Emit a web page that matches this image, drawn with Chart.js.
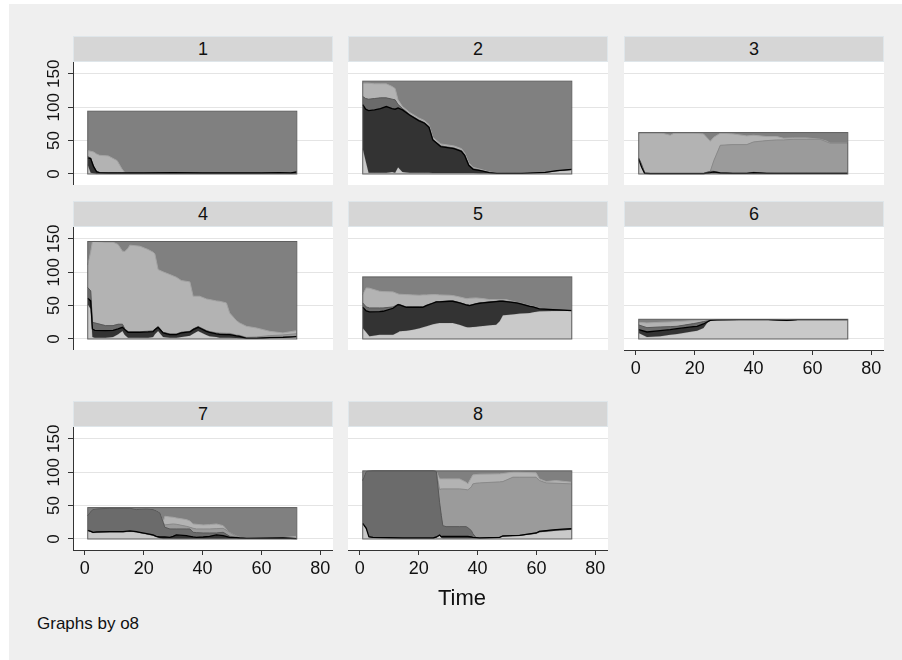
<!DOCTYPE html>
<html><head><meta charset="utf-8">
<script src="https://cdn.jsdelivr.net/npm/chart.js@4.4.1/dist/chart.umd.min.js"></script>
<style>
html,body{margin:0;padding:0;background:#fff;}
#bg{position:absolute;left:9px;top:4px;width:893px;height:656px;background:#efefef;}
.hdr{position:absolute;height:26px;background:#d6d6d6;box-sizing:border-box;border:1px solid #dfe6ea;font:18px "Liberation Sans",Arial,sans-serif;color:#111;text-align:center;line-height:24px;}
.txt{position:absolute;font-family:"Liberation Sans",Arial,sans-serif;color:#111;white-space:nowrap;}
canvas{position:absolute;}
</style></head><body>
<div id="bg"></div>
<div id="root"></div>
<script>
// ---------- tick labels ----------
const timeTicks = [0, 20, 40, 60, 80];
const countTicks = [0, 50, 100, 150];
const xTitle = 'Time';
const note = 'Graphs by o8';

// ---------- data: cumulative levels of the stacked areas (s1 bottom ... s5), and group total ----------
const p1_t  = [1, 2, 3, 4, 5, 8, 11, 12.5, 13.5, 15, 20, 30, 40, 50, 60, 66, 70, 72];
const p1_s1 = [14, 2, 1, 0.5, 0.5, 0.5, 0.5, 0.5, 0.5, 0.5, 0.5, 0.5, 0.5, 0.5, 0.5, 0.5, 0.5, 0.5];
const p1_s2 = [24, 23, 11, 3.5, 2, 1.5, 1.5, 1.5, 1.5, 1.5, 1.5, 2, 1.5, 1.5, 1.5, 2, 1.5, 3];
const p1_s3 = [26, 24, 11.5, 3.5, 2, 1.5, 1.5, 1.5, 1.5, 1.5, 1.5, 2, 1.5, 1.5, 1.5, 2, 1.5, 3];
const p1_s5 = [35, 34, 33, 30, 28, 27, 20, 8.5, 2.5, 1.5, 1.5, 2, 1.5, 1.5, 1.5, 2, 1.5, 3];
const p1_total = 94;

const p2_t  = [1, 2, 3, 5, 7, 9, 11, 12, 13, 14.5, 17, 20, 22, 23.5, 24.8, 27.5, 32, 34.5, 35.6, 37, 38.5, 41, 44, 46.5, 55, 63, 67, 72];
const p2_s1 = [38, 20, 2, 2, 2, 2, 3, 2, 10, 3, 2, 2, 2, 2, 1.5, 1.5, 1.5, 1.5, 1.5, 1.5, 1.5, 1, 1, 1, 1, 2, 4, 6];
const p2_s2 = [104, 97, 95, 96, 98, 101, 98, 97, 99, 96, 88, 80, 76, 70, 51, 41, 38, 34, 28, 13, 7, 5, 2, 1, 1, 2.5, 5, 7];
const p2_s3 = [116, 113, 112, 113, 114, 114, 112, 111, 104, 98, 89, 81, 77, 71, 52, 42, 39, 35, 29, 14, 8, 5.5, 2.2, 1.1, 1, 2.5, 5, 7];
const p2_s5 = [136, 136, 136, 135, 135, 135, 131, 128, 111, 101, 92, 84, 80, 74, 55, 45, 42, 38, 32, 17, 10, 7, 3, 1.5, 1, 2.5, 5, 7];
const p2_total = 139;

const p3_t  = [1, 2, 3, 5, 9, 11.7, 13, 20, 23, 25.3, 26.5, 28.7, 33, 37.7, 40, 44.5, 47.9, 50.2, 53.6, 58, 62.6, 64.9, 66, 72];
const p3_s1 = [22, 10, 1, 0.5, 0.5, 0.5, 0.5, 0.5, 0.5, 1, 1, 1, 0.5, 0.5, 0.5, 0.5, 0.5, 0.5, 0.5, 0.5, 0.5, 0.5, 0.5, 0.5];
const p3_s2 = [22, 10, 1, 0.5, 0.5, 0.5, 0.5, 0.5, 0.5, 2, 3, 1.5, 1, 1, 2, 1, 1, 1, 1, 1, 1, 1, 1, 1];
const p3_s3 = [24, 14, 2, 1, 1, 1, 1, 1, 1, 4, 4, 2, 1, 1, 2.5, 1.2, 1, 1, 1, 1, 1, 1, 1, 1];
const p3_s4 = [24, 14, 2, 1, 1, 1, 1, 1, 1, 4, 20, 43, 44, 44, 48, 50, 51, 51, 52, 52, 52, 48, 46, 46];
const p3_s5 = [60, 61, 61, 61, 61, 58, 61, 61, 60, 49, 55, 61, 60, 57, 58, 56, 56, 53.5, 54, 54, 52, 49, 46, 46];
const p3_total = 62;

const p4_t  = [1, 2, 2.6, 3.4, 7, 9.6, 11.3, 12.8, 13.6, 14.7, 15.3, 18.7, 21.5, 23.2, 23.8, 24.9, 26.6, 28.9, 31.1, 32.8, 35.7, 36.8, 38.5, 39, 41.3, 42.4, 44.7, 45.8, 48.1, 49.2, 51.5, 52.6, 54.9, 58.3, 60.6, 62.8, 67.3, 72];
const p4_s1 = [52, 45, 3, 2, 2, 3, 7, 12, 6, 2, 2, 2, 2, 3, 7, 12, 3, 2, 2, 3, 5, 8, 12, 11, 6, 4, 3, 2, 2, 2, 1.5, 1, 0.5, 0.5, 1, 1.5, 2, 3];
const p4_s2 = [61, 57, 15, 13, 12.5, 13, 15, 17.5, 14, 10, 10, 10, 10.5, 11, 14, 17.5, 9, 6.5, 6.5, 9, 10.5, 14, 17.5, 16.5, 11.5, 10, 7.5, 7, 6.5, 6.5, 4.5, 4, 1, 1, 1.5, 2, 2.5, 3.5];
const p4_s3 = [77, 72, 25, 24, 20, 20, 22, 22, 15, 11, 11, 11, 11.5, 12, 15, 18.5, 10, 7.5, 7.5, 10, 11.5, 15, 18.5, 17.5, 12.5, 11, 8.5, 8, 7.5, 7.5, 5, 4.5, 1.5, 1.5, 2, 2.5, 3, 4];
const p4_s4 = [77, 72, 25, 24, 20, 20, 22, 22, 15, 11, 11, 11, 11.5, 12, 15, 18.5, 10, 7.5, 7.5, 10, 11.5, 15, 18.5, 17.5, 12.5, 11, 9.5, 9, 8.5, 8.5, 6, 5.5, 2.5, 3, 4, 5, 6, 8];
const p4_s5 = [111, 130, 146, 146, 145, 145, 141.5, 131.5, 131, 136, 140.5, 139, 134, 130, 127.5, 104, 100.5, 96.5, 92.5, 87.5, 85.5, 64, 64, 64, 60, 59, 57, 56.5, 54, 39, 27.5, 24, 19, 16.5, 14, 11.5, 9, 12.5];
const p4_total = 146;

const p5_t  = [1, 2.2, 3.3, 6.7, 7.9, 11.3, 13, 13.5, 15.8, 18, 20.3, 21.4, 22.6, 24.8, 26, 27, 30.5, 31.6, 33.9, 36.1, 36.7, 37.3, 39.5, 40.7, 41.8, 44, 46.3, 47.5, 48.6, 49.7, 53.1, 54.3, 57.7, 58.8, 61, 65.6, 72];
const p5_s1 = [16.5, 10, 4, 6.5, 6.5, 6.5, 10, 11.5, 12.5, 14, 16, 17.5, 19, 22, 23, 24, 24, 24, 21.5, 18, 17.5, 17.5, 18.5, 19, 19.5, 20.5, 21.5, 26.5, 35.5, 36, 37.5, 38, 39, 40, 41.5, 42, 42.5];
const p5_s2 = [47.5, 42, 40.5, 41, 41.5, 46, 51.5, 51, 47.5, 47.5, 47.5, 47.5, 50, 53.5, 55.5, 55.5, 56.5, 56.5, 54, 51, 50.5, 50, 52.5, 53.5, 54, 55, 56, 56.5, 56.5, 56, 54, 53, 49, 48, 45, 44, 42.5];
const p5_s3 = [54, 48, 46.5, 46.5, 46.5, 48, 52, 51.5, 48, 48, 48, 48, 50.5, 54, 56, 56, 57, 57, 54.5, 51.5, 51, 50.5, 53, 54, 54.5, 55.5, 56.5, 57, 57, 56.5, 54.5, 53.5, 49.5, 48.5, 45.5, 44.5, 43];
const p5_s5 = [66.5, 76.5, 76, 71.5, 71, 70.5, 67.5, 67, 66.5, 66, 65.5, 66, 66, 66.5, 66.5, 66, 65.5, 65, 63, 60.5, 60.5, 61, 61.5, 61, 60.5, 59, 59, 59, 59, 59, 55, 54, 50, 49, 46, 44.5, 43];
const p5_total = 93;

const p6_t  = [1, 3.8, 8.3, 11.7, 14, 19.6, 20.8, 23, 24.2, 25.3, 27.6, 35, 45, 51.3, 55, 65, 72];
const p6_s1 = [9, 3, 4, 6.5, 7.5, 11.5, 12.5, 16.5, 24, 27.5, 28, 28.5, 28.5, 27, 28.5, 28.5, 28.5];
const p6_s2 = [14, 10.5, 12.5, 14, 15.5, 18.5, 19, 22.5, 25.5, 27.8, 28.5, 29, 29, 28, 29, 29, 29];
const p6_s3 = [21, 17, 18, 18.5, 19, 23, 24, 26, 27, 28, 28.7, 29, 29, 28, 29, 29, 29];
const p6_s5 = [25, 24, 25, 25.5, 26, 27.5, 28, 28.5, 28.5, 28.5, 29, 29, 29, 28, 29, 29, 29];
const p6_total = 29.5;

const p7_t  = [1, 2.3, 2.8, 4, 8.5, 9.6, 13, 15.3, 17.5, 18.7, 21, 23.2, 24.3, 25.5, 26.6, 27.2, 28.9, 30, 31.1, 34.5, 35.7, 36.8, 37.9, 40.2, 42.4, 44.7, 47, 49.2, 51.5, 52.6, 54.9, 56, 67.3, 72];
const p7_s1 = [12.5, 10, 9, 9.5, 10, 10, 10, 11, 10, 9, 7, 5, 3, 1, 0.5, 0.5, 0.5, 0.5, 0.5, 0.5, 0.5, 0.5, 0.5, 0.5, 0.5, 0.5, 0.5, 0.5, 0.5, 0.5, 0.5, 0.5, 0.5, 0.5];
const p7_s2 = [13, 11, 10, 10.5, 11, 11, 11, 12, 11, 10, 8, 6, 4, 3, 3, 3, 2.5, 4, 6, 5, 4, 3, 2.5, 3, 4, 6, 5, 2.5, 2, 1.5, 1, 1, 1.5, 0.5];
const p7_s3 = [35, 42.5, 44, 45, 46, 46, 46, 46, 44, 44.5, 45, 44, 42, 39, 25, 17.5, 15, 15, 15, 15, 15, 10, 9.5, 9, 9, 9, 10, 4, 2.5, 2, 1.2, 1.2, 1.7, 0.7];
const p7_s4 = [35, 42.5, 44, 45, 46, 46, 46, 46, 44, 44.5, 45, 44, 42, 39, 25, 21, 22, 22.5, 22, 19, 17.5, 16, 15, 15, 15, 15.5, 16, 10, 4, 2.5, 1.2, 1.2, 1.7, 0.7];
const p7_s5 = [35, 42.5, 44, 45, 46, 46, 46, 46, 44, 44.5, 45, 44, 42, 39, 25, 34, 33, 32.5, 31.5, 29, 27, 22.5, 22, 21, 21.5, 22.5, 20, 9, 4.5, 2.5, 1.5, 1.2, 2, 4];
const p7_total = 47;

const p8_t  = [1, 2.2, 3.1, 4.5, 14.7, 25, 26, 27.1, 27.7, 28.2, 29.3, 33.9, 36.1, 36.7, 37.9, 38.4, 39.5, 40.7, 47.5, 48.6, 52, 54.3, 59.9, 61, 63.3, 66.6, 72];
const p8_s1 = [22.5, 15, 2.5, 1.5, 1, 1, 2, 5, 2, 1, 1, 1, 1, 1, 1, 1, 1, 1, 2, 4, 4.5, 5, 8, 10, 11, 12.5, 14];
const p8_s2 = [23.5, 16, 3.5, 2.5, 1.5, 1.5, 3, 6, 3.5, 4, 4, 4, 4, 4, 3, 2.5, 2, 1.5, 2.5, 4.5, 5, 5.5, 9, 11.5, 12.5, 14, 15.5];
const p8_s3 = [87.5, 101, 101.5, 102, 102, 102, 101, 55, 35, 20, 18.5, 18.5, 18.5, 17, 12.5, 8, 2, 1.5, 2.5, 4.5, 5, 5.5, 9, 11.5, 12.5, 14, 15.5];
const p8_s4 = [87.5, 101, 101.5, 102, 102, 102, 101, 74, 75, 75, 75, 75, 74, 73.5, 78, 82.5, 83.5, 84, 85.5, 86, 92.5, 92.5, 92.5, 87.5, 84, 83.5, 82.5];
const p8_s5 = [87.5, 101, 101.5, 102, 102, 102, 101, 90, 90, 90, 90, 90, 85, 82.5, 92, 96, 96.5, 97, 97.5, 98, 100, 100, 99, 90, 86, 87.5, 85];
const p8_total = 102;

const panels = [
  {name: '1', t: p1_t, s: [p1_s1, p1_s2, p1_s3, null, p1_s5], total: p1_total},
  {name: '2', t: p2_t, s: [p2_s1, p2_s2, p2_s3, null, p2_s5], total: p2_total},
  {name: '3', t: p3_t, s: [p3_s1, p3_s2, p3_s3, p3_s4, p3_s5], total: p3_total},
  {name: '4', t: p4_t, s: [p4_s1, p4_s2, p4_s3, p4_s4, p4_s5], total: p4_total},
  {name: '5', t: p5_t, s: [p5_s1, p5_s2, p5_s3, null, p5_s5], total: p5_total},
  {name: '6', t: p6_t, s: [p6_s1, p6_s2, p6_s3, null, p6_s5], total: p6_total},
  {name: '7', t: p7_t, s: [p7_s1, p7_s2, p7_s3, p7_s4, p7_s5], total: p7_total},
  {name: '8', t: p8_t, s: [p8_s1, p8_s2, p8_s3, p8_s4, p8_s5], total: p8_total}
];

// ---------- styles ----------
const FONT = '"Liberation Sans", Arial, sans-serif';
const fills   = ['#c9c9c9', '#333333', '#6b6b6b', '#9b9b9b', '#b3b3b3'];
const borders = ['#b3b3b3', '#000000', '#585858', '#8a8a8a', '#a3a3a3'];
const bwidths = [1, 1.3, 1, 1, 1];
const orders  = [3, 1, 4, 5, 6];
const totalFill = '#808080';

const colLeft = [73, 348, 624];
const rowTop = [62, 227, 427];
const plotW = 260, plotH = 123, hdrH = 26;
const xMin = -4, xMax = 84.3, yMin = -16.5, yMax = 167.7;

const plotBg = {
  id: 'plotBg',
  beforeDraw(chart) {
    const {ctx, chartArea: a} = chart;
    ctx.save(); ctx.fillStyle = '#ffffff';
    ctx.fillRect(a.left, a.top, a.right - a.left, a.bottom - a.top);
    ctx.restore();
  }
};
const boxOutline = {
  id: 'boxOutline',
  afterDatasetsDraw(chart, args, opts) {
    const {ctx} = chart, xs = chart.scales.x, ys = chart.scales.y;
    const x0 = xs.getPixelForValue(opts.t0), x1 = xs.getPixelForValue(opts.t1);
    const y0 = ys.getPixelForValue(0), y1 = ys.getPixelForValue(opts.total);
    ctx.save(); ctx.strokeStyle = '#5e5e5e'; ctx.lineWidth = 1;
    ctx.strokeRect(x0, y1, x1 - x0, y0 - y1);
    ctx.restore();
  }
};
function noPad(s) { s.paddingTop = 0; s.paddingBottom = 0; s.paddingLeft = 0; s.paddingRight = 0; }

const root = document.getElementById('root');
panels.forEach((p, i) => {
  const col = i % 3, row = Math.floor(i / 3);
  const hasY = col === 0;
  const hasX = i >= 5;
  const padL = hasY ? 60 : 0;
  const padB = hasX ? 36 : 0;
  const padT = hasY ? 16 : 0;

  const h = document.createElement('div');
  h.className = 'hdr';
  h.style.left = colLeft[col] + 'px';
  h.style.top = (rowTop[row] - hdrH) + 'px';
  h.style.width = plotW + 'px';
  h.textContent = p.name;
  root.appendChild(h);

  const cv = document.createElement('canvas');
  const W = plotW + padL, H = plotH + padB + padT;
  cv.width = W; cv.height = H;
  cv.style.width = W + 'px'; cv.style.height = H + 'px';
  cv.style.left = (colLeft[col] - padL) + 'px';
  cv.style.top = (rowTop[row] - padT) + 'px';
  root.appendChild(cv);

  const datasets = [];
  p.s.forEach((arr, k) => {
    if (!arr) return;
    datasets.push({
      data: p.t.map((t, j) => ({x: t, y: arr[j]})),
      backgroundColor: fills[k], borderColor: borders[k], borderWidth: bwidths[k],
      fill: datasets.length === 0 ? 'origin' : '-1', order: orders[k]
    });
  });
  const t0 = p.t[0], t1 = p.t[p.t.length - 1];
  datasets.push({
    data: [{x: t0, y: p.total}, {x: t1, y: p.total}],
    backgroundColor: totalFill, borderColor: totalFill, borderWidth: 0,
    fill: 'origin', order: 10
  });

  new Chart(cv, {
    type: 'line',
    data: {datasets},
    plugins: [plotBg, boxOutline],
    options: {
      responsive: false, animation: false, events: [],
      layout: {padding: {top: padT, left: 0, right: 0, bottom: 0}},
      elements: {point: {radius: 0}, line: {tension: 0}},
      plugins: {legend: {display: false}, tooltip: {enabled: false},
                boxOutline: {t0, t1, total: p.total}},
      scales: {
        x: {
          type: 'linear', min: xMin, max: xMax, display: hasX,
          afterBuildTicks: s => { s.ticks = timeTicks.map(v => ({value: v})); },
          afterFit: s => { s.height = padB; noPad(s); },
          grid: {drawOnChartArea: false, drawTicks: true, tickLength: 5, tickColor: '#333', lineWidth: 1},
          border: {display: true, color: '#333', width: 1},
          ticks: {font: {family: FONT, size: 18}, color: '#111', padding: 3, maxRotation: 0, minRotation: 0, autoSkip: false}
        },
        y: {
          type: 'linear', min: yMin, max: yMax,
          afterBuildTicks: s => { s.ticks = countTicks.map(v => ({value: v})); },
          afterFit: s => { s.width = padL; noPad(s); },
          grid: {color: '#e4e4e4', lineWidth: 1, drawTicks: hasY, tickLength: 5, tickColor: '#333'},
          border: {display: hasY, color: '#333', width: 1},
          ticks: {display: hasY, font: {family: FONT, size: 17}, color: '#111', minRotation: 90, maxRotation: 90,
                  crossAlign: 'center', padding: -0.5, autoSkip: false}
        }
      }
    }
  });
});

const tt = document.createElement('div');
tt.className = 'txt'; tt.textContent = xTitle;
tt.style.left = '362px'; tt.style.width = '200px'; tt.style.textAlign = 'center';
tt.style.top = '585px'; tt.style.fontSize = '22px'; tt.style.lineHeight = '26px';
root.appendChild(tt);

const nt = document.createElement('div');
nt.className = 'txt'; nt.textContent = note;
nt.style.left = '37px'; nt.style.top = '614px'; nt.style.fontSize = '17px'; nt.style.lineHeight = '20px';
root.appendChild(nt);
</script>
</body></html>
